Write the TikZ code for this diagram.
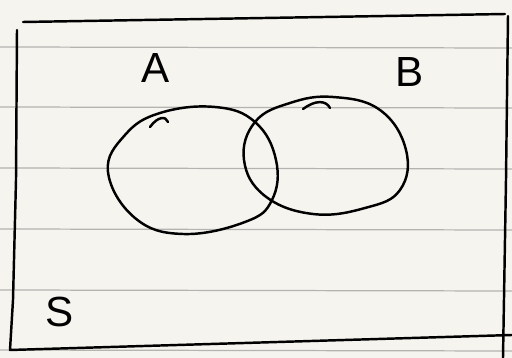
\documentclass[tikz,border=0pt]{standalone}
\usepackage{fontspec}
\setsansfont{Liberation Sans}
\usepackage{tikz}

\definecolor{paper}{HTML}{F6F4EF}
\definecolor{ruling}{HTML}{B3B3B0}

\begin{document}
\begin{tikzpicture}[x=0.02cm, y=-0.02cm,
    pen/.style={line width=1.4pt, line cap=round, line join=round},
    set label/.style={font=\sffamily\fontsize{24}{26}\selectfont, inner sep=0pt}]
    \fill[paper] (0,0) rectangle (512,358);
    \useasboundingbox (0,0) rectangle (512,358);

    % ruled lines of the paper
    \foreach \y in {47,107,168,229,290,350}
        \draw[ruling, line width=0.7pt] (0,\y) -- (512,\y+1);

    % sample space
    \draw[pen] (23,22) -- (505,14);
    \draw[pen] (17,30) -- (16,180) -- (13,300) -- (10,350) -- (512,335);
    \draw[pen] (508,16) -- (506,180) -- (503,358);

    % sets
    \draw[pen] plot[smooth cycle, tension=0.7] coordinates
        {(108,172) (125,135) (160,113) (215,107) (255,122) (276,160) (272,200)
         (245,222) (183,234) (135,218)};
    \draw[pen] plot[smooth cycle, tension=0.7] coordinates
        {(244,160) (255,122) (290,103) (333,97) (380,110) (406,150) (400,190)
         (365,208) (313,214) (265,196)};
    \draw[pen] (150,127) .. controls (158,116) and (166,116) .. (168,122);
    \draw[pen] (303,109) .. controls (315,100) and (326,100) .. (330,108);

    \node[set label] (A) at (156,68) {A};
    \node[set label] (B) at (410,72) {B};
    \node[set label] (S) at (60,312) {S};
\end{tikzpicture}
\end{document}
